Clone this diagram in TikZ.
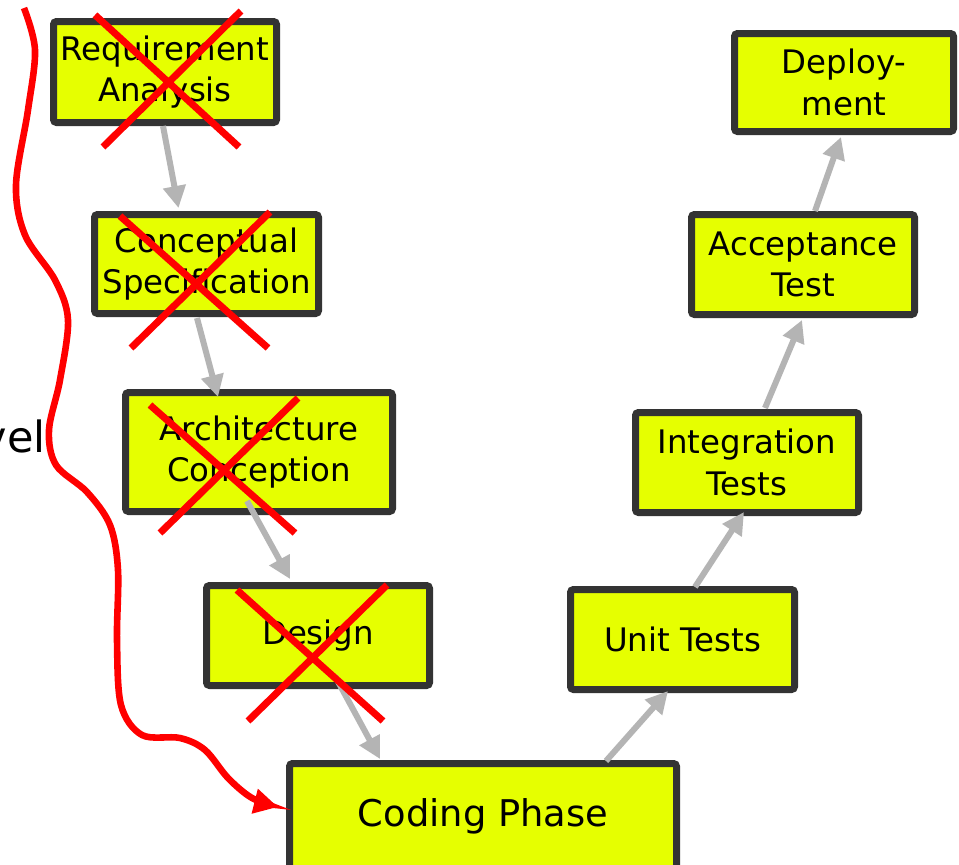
\documentclass[tikz,border=0pt]{standalone}
\usepackage{fontspec}
\setmainfont{DejaVu Sans}
\usetikzlibrary{arrows.meta,calc}
\definecolor{boxfill}{HTML}{E6FF00}
\definecolor{boxline}{HTML}{333333}
\definecolor{flowgray}{HTML}{B4B4B4}
\definecolor{crossred}{HTML}{FF0000}
\tikzset{
  phase/.style={draw=boxline,fill=boxfill,line width=3.5pt,rounded corners=1.5pt,
    inner sep=0pt,align=center,font=\fontsize{16.2}{20.8}\selectfont},
  flow/.style={draw=flowgray,line width=3pt,-{Triangle[length=11pt,width=11pt]}},
  cross/.style={draw=crossred,line width=3.5pt},
  redpath/.style={draw=crossred,line width=3.3pt,-{Triangle[length=12pt,width=12pt]}},
}
\begin{document}
\begin{tikzpicture}[x=0.5pt,y=-0.5pt]
    \clip (0,0) rectangle (959,864);
    \fill[white] (0,0) rectangle (959,864);
    \node[anchor=base east,inner sep=0pt,font=\fontsize{21.5}{26}\selectfont] (level) at (46,452) {vel};
    \node[phase,minimum width=111.5pt,minimum height=50.5pt] (req) at (165,72) {Requirement\\Analysis};
    \node[phase,minimum width=112pt,minimum height=49.5pt] (spec) at (206.5,264) {Conceptual\\Specification};
    \node[phase,minimum width=133.5pt,minimum height=59.5pt] (arch) at (259,452) {Architecture\\Conception};
    \node[phase,minimum width=111.5pt,minimum height=50pt] (design) at (318,635.5) {Design};
    \node[phase,minimum width=193.5pt,minimum height=52.5pt,font=\fontsize{18.4}{22}\selectfont] (coding) at (483,816) {Coding Phase};
    \node[phase,minimum width=112pt,minimum height=50pt] (unit) at (682.5,639.5) {Unit Tests};
    \node[phase,minimum width=111.5pt,minimum height=50pt] (integ) at (747,462.5) {Integration\\Tests};
    \node[phase,minimum width=111.5pt,minimum height=50pt] (accept) at (803,264.5) {Acceptance\\Test};
    \node[phase,minimum width=109.5pt,minimum height=49pt] (deploy) at (844,82.5) {Deploy-\\ment};
    \draw[flow] ($(req.south)+(-2,0)$) -- ($(spec.north)+(-28,-3)$);
    \draw[flow] ($(spec.south)+(-9.5,1)$) -- ($(arch.north)+(-41,8)$);
    \draw[flow] ($(arch.south)+(-12,-14)$) -- ($(design.north)+(-28,-3)$);
    \draw[flow] ($(design.south)+(17,-13)$) -- ($(coding.north)+(-103,-1)$);
    \draw[flow] ($(coding.north)+(123,1)$) -- ($(unit.south)+(-14.5,-2)$);
    \draw[flow] ($(unit.north)+(12.5,1)$) -- ($(integ.south)+(-3,-4)$);
    \draw[flow] ($(integ.north)+(18,-1)$) -- ($(accept.south)+(-1,2)$);
    \draw[flow] ($(accept.north)+(12,0)$) -- ($(deploy.south)+(-3,2)$);
    \draw[cross] (95,15) -- (239,147) (241,11) -- (103,147);
    \draw[cross] (120,216) -- (268,348) (270,212) -- (131,348);
    \draw[cross] (150,405) -- (295,533) (298,398) -- (160,533);
    \draw[cross] (237,590) -- (383,721) (387,585) -- (248,721);
    \draw[redpath] plot[smooth,tension=0.55] coordinates {(24,8) (35,50) (28,110) (16,185) (25,235)
      (55,280) (68,320) (60,380) (49,430) (56,465) (87,492) (110,525) (118,570) (117,640)
      (121,705) (142,735) (180,738) (205,750) (228,778) (252,798) (278,807)};
\end{tikzpicture}
\end{document}
